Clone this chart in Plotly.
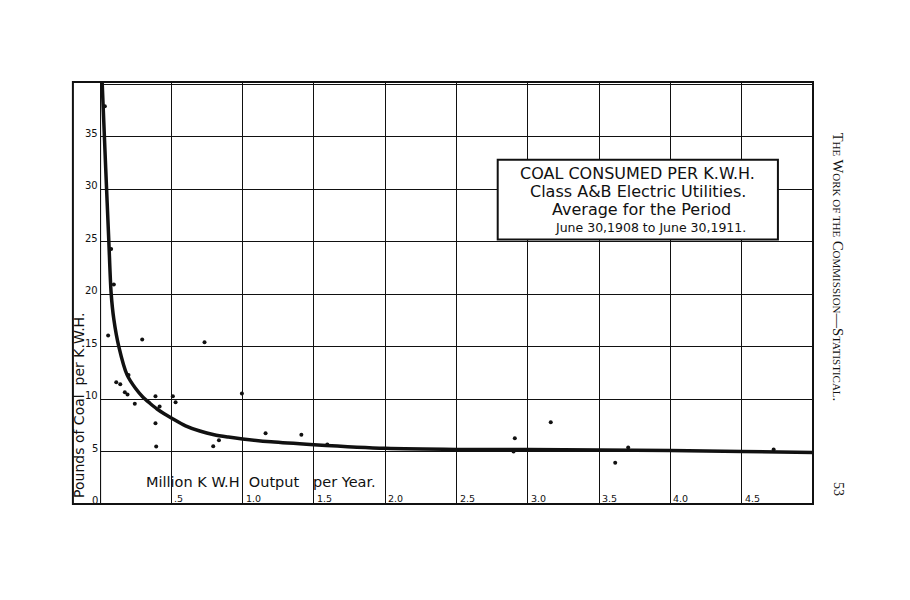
import plotly.graph_objects as go

# Observed plants: output (million kWh per year) vs pounds of coal per kWh
plant_output = [0.034, 0.078, 0.097, 0.057, 0.296, 0.114, 0.142, 0.174, 0.193, 0.20,
                0.244, 0.389, 0.418, 0.389, 0.394, 0.511, 0.530, 0.733, 0.995, 0.834,
                0.794, 1.161, 1.412, 1.594, 2.909, 2.900, 3.161, 3.613, 3.704, 4.724]
plant_coal = [37.9, 24.3, 20.9, 16.05, 15.67, 11.6, 11.4, 10.65, 10.43, 12.3,
              9.54, 10.27, 9.29, 7.7, 5.48, 10.27, 9.7, 15.4, 10.52, 6.08,
              5.51, 6.75, 6.59, 5.67, 6.27, 5.0, 7.79, 3.92, 5.38, 5.19]

# Average curve
curve_output = [0.015, 0.04, 0.062, 0.078, 0.097, 0.132, 0.19, 0.25, 0.3, 0.35, 0.4,
                0.45, 0.5, 0.6, 0.7, 0.8, 0.9, 1.0, 1.2, 1.5, 2.0, 2.5, 3.0, 3.5,
                4.0, 4.5, 5.0]
curve_coal = [40.2, 32.0, 25.0, 20.1, 17.6, 15.0, 12.3, 11.0, 10.2, 9.6, 9.05,
              8.6, 8.2, 7.45, 6.95, 6.6, 6.38, 6.2, 5.92, 5.65, 5.3, 5.2, 5.2, 5.15,
              5.1, 5.0, 4.9]

y_tick_vals = [0, 5, 10, 15, 20, 25, 30, 35]
y_tick_labels = ["0", "5", "10", "15", "20", "25", "30", "35"]
x_tick_vals = [0.5, 1.0, 1.5, 2.0, 2.5, 3.0, 3.5, 4.0, 4.5]
x_tick_labels = [".5", "1.0", "1.5", "2.0", "2.5", "3.0", "3.5", "4.0", "4.5"]

title_lines = ["COAL CONSUMED PER K.W.H.",
               "Class A&amp;B Electric Utilities.",
               "Average for the Period",
               "June 30,1908 to June 30,1911."]

FONT = "DejaVu Sans"
INK = "#111111"

fig = go.Figure()
fig.add_trace(go.Scatter(x=curve_output, y=curve_coal, mode="lines",
                         line=dict(color=INK, width=3.5, shape="spline", smoothing=0.8),
                         hoverinfo="skip", showlegend=False))
fig.add_trace(go.Scatter(x=plant_output, y=plant_coal, mode="markers",
                         marker=dict(color=INK, size=4), showlegend=False))

annotations = []
for v, t in zip(y_tick_vals, y_tick_labels):
    annotations.append(dict(x=0, y=v, xref="x", yref="y", text=t, showarrow=False,
                            xanchor="right", yanchor="bottom", xshift=0, yshift=-4,
                            font=dict(family=FONT, size=10, color=INK)))
for v, t in zip(x_tick_vals, x_tick_labels):
    annotations.append(dict(x=v, y=0, xref="x", yref="y", text=t, showarrow=False,
                            xanchor="left", yanchor="bottom", xshift=1, yshift=-2,
                            font=dict(family=FONT, size=9.5, color=INK)))

title_y = [31.48, 29.76, 28.05, 26.33]
title_x = [3.77, 3.77, 3.8, 3.86]
title_sizes = [16, 16, 16, 12.5]
for tx, ty, txt, sz in zip(title_x, title_y, title_lines, title_sizes):
    annotations.append(dict(x=tx, y=ty, xref="x", yref="y", text=txt, showarrow=False,
                            xanchor="center", yanchor="middle",
                            font=dict(family=FONT, size=sz, color=INK)))

annotations.append(dict(x=0.31, y=2.1, xref="x", yref="y",
                        text="Million K W.H  Output   per Year.", showarrow=False,
                        xanchor="left", yanchor="middle",
                        font=dict(family=FONT, size=14.5, color=INK)))
annotations.append(dict(x=-0.0285, y=0.01, xref="paper", yref="paper",
                        text="Pounds of Coal  per K.W.H.", showarrow=False, textangle=-90,
                        xanchor="center", yanchor="bottom",
                        font=dict(family=FONT, size=14, color=INK)))

sc = "font-size:11px"
running = ("T<span style='%s'>HE</span> W<span style='%s'>ORK OF THE</span> "
           "C<span style='%s'>OMMISSION</span>—S<span style='%s'>TATISTICAL</span>."
           % (sc, sc, sc, sc))
annotations.append(dict(x=1.0355, y=0.885, xref="paper", yref="paper", text=running,
                        showarrow=False, textangle=90, xanchor="center", yanchor="top",
                        font=dict(family="Liberation Serif", size=14.5, color=INK)))
annotations.append(dict(x=1.0355, y=0.035, xref="paper", yref="paper", text="53",
                        showarrow=False, textangle=90, xanchor="center", yanchor="middle",
                        font=dict(family="Liberation Serif", size=14, color=INK)))

shapes = [
    dict(type="rect", xref="paper", yref="paper", x0=-0.038, x1=1, y0=0, y1=1,
         line=dict(color=INK, width=2), fillcolor="rgba(0,0,0,0)", layer="above"),
    dict(type="line", xref="x", yref="paper", x0=0, x1=0, y0=0, y1=1,
         line=dict(color=INK, width=2.2), layer="above"),
    dict(type="rect", xref="x", yref="y", x0=2.789, x1=4.754, y0=25.19, y1=32.8,
         line=dict(color=INK, width=2), fillcolor="white", layer="above"),
]

axis_common = dict(showticklabels=False, ticks="", showgrid=True, gridcolor=INK,
                   gridwidth=1.2, zeroline=False, showline=False, fixedrange=True)

# the page body adds an 8px offset, so margins are shifted accordingly
fig.update_layout(
    width=910, height=600,
    margin=dict(l=92, r=105, t=74, b=104),
    paper_bgcolor="white", plot_bgcolor="white",
    xaxis=dict(range=[0, 5], dtick=0.5, tick0=0, **axis_common),
    yaxis=dict(range=[0, 40.2], dtick=5, tick0=0, **axis_common),
    annotations=annotations, shapes=shapes, showlegend=False,
)

fig.write_html("out.html")
